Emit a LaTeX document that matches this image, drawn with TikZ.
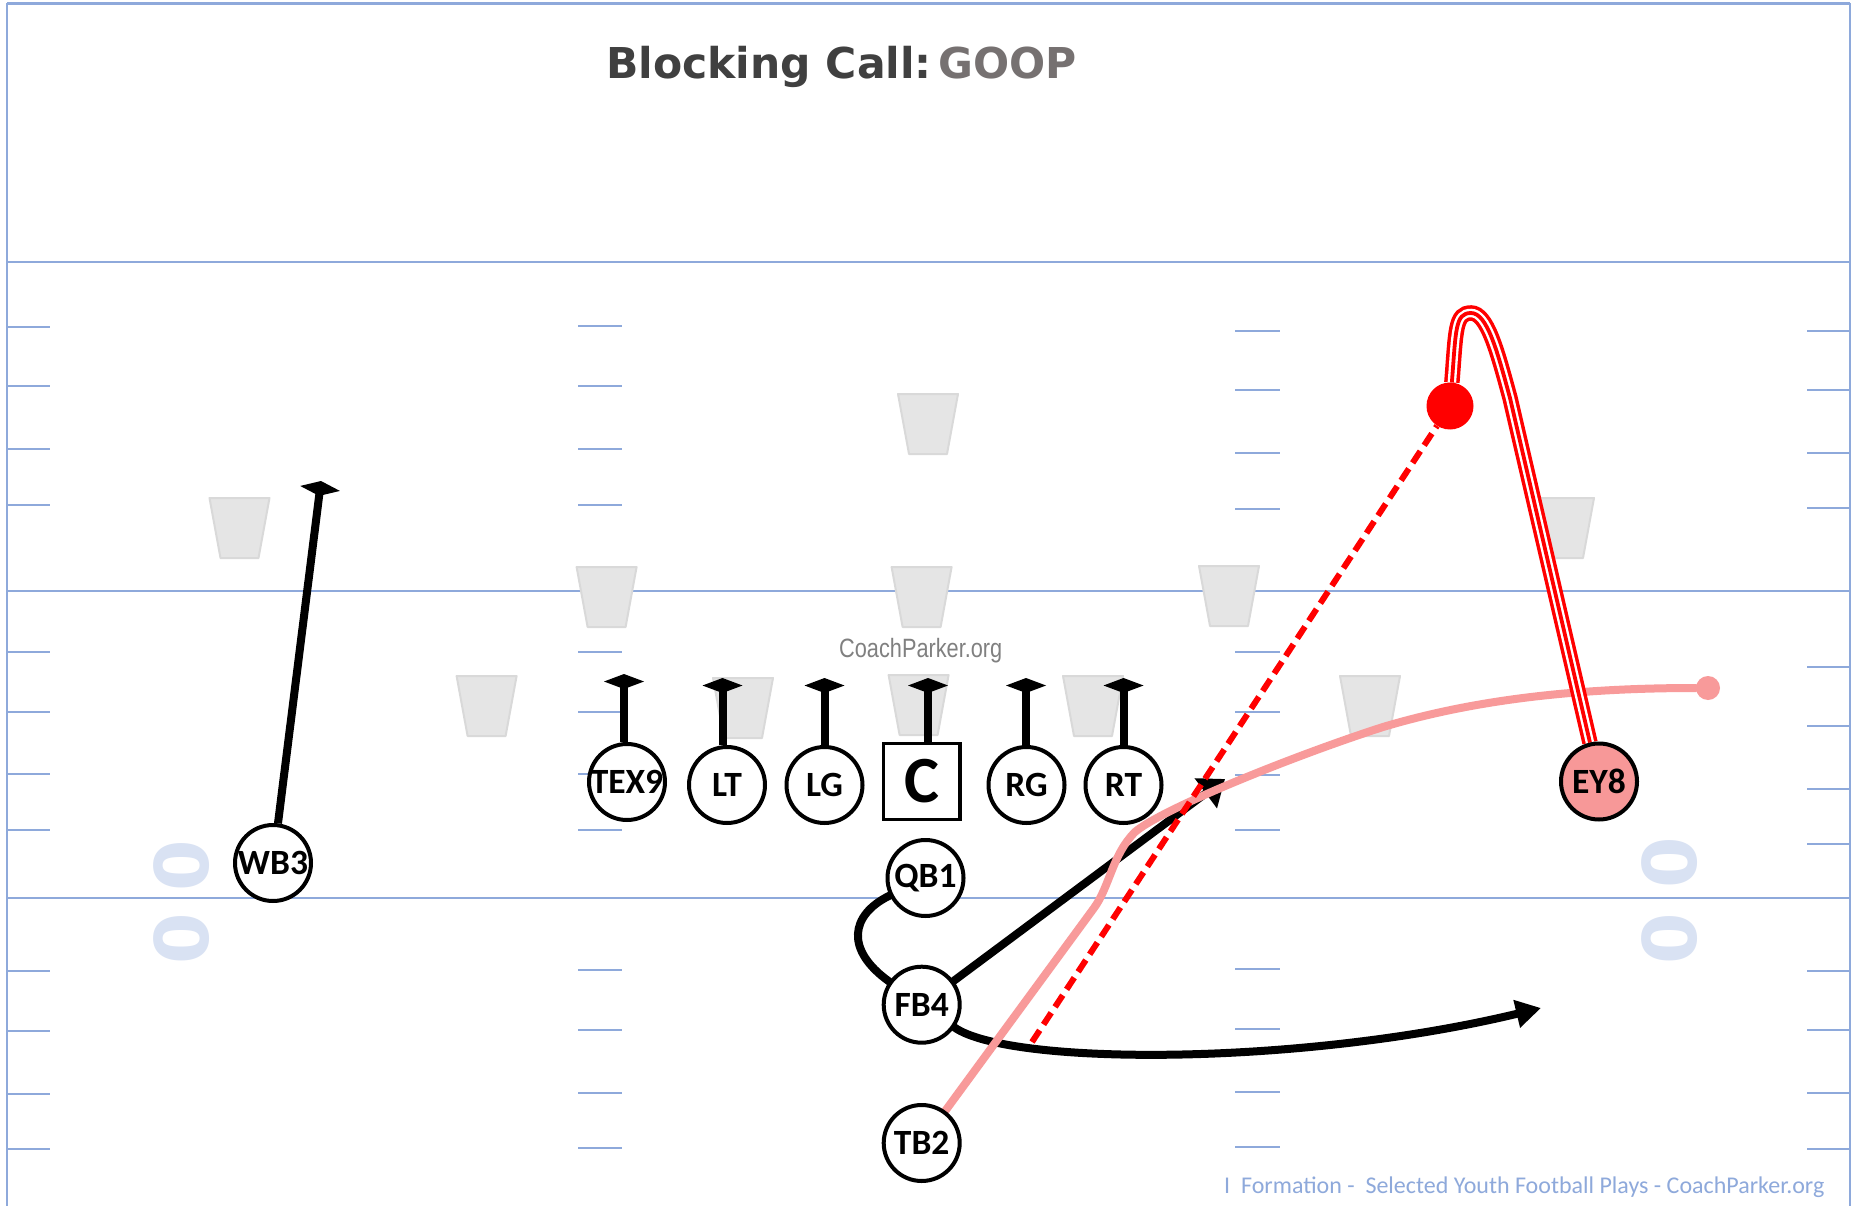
\documentclass[tikz,border=0pt]{standalone}
\usepackage{fontspec}
\setmainfont{Carlito}
\newfontfamily\dvsans{DejaVu Sans}
\newfontfamily\libsans{Liberation Sans}
\usetikzlibrary{arrows.meta}
\pgfdeclarelayer{bgl}
\pgfdeclarelayer{rtl}
\pgfsetlayers{bgl,rtl,main}
\definecolor{fieldblue}{RGB}{142,169,219}
\definecolor{zeroblue}{RGB}{217,226,243}
\definecolor{trapfill}{RGB}{229,229,229}
\definecolor{trapdraw}{RGB}{217,217,217}
\definecolor{pinkc}{RGB}{248,154,154}
\definecolor{eyfill}{RGB}{247,152,152}
\definecolor{titledark}{RGB}{64,64,64}
\definecolor{titlegray}{RGB}{118,113,113}
\definecolor{wmgray}{RGB}{128,128,128}
\begin{document}
\begin{tikzpicture}[x=1pt,y=-1pt,
  fline/.style={draw=fieldblue, line width=1.6pt},
  hashst/.style={draw=fieldblue, line width=1.6pt},
  trapst/.style={fill=trapfill, draw=trapdraw, line width=2pt, line join=round},
  player/.style={circle, draw=black, line width=4pt, fill=white, minimum size=76pt, inner sep=0pt, font=\fontsize{35.5}{35.5}\selectfont\bfseries},
  centerbox/.style={rectangle, draw=black, line width=3.4pt, fill=white, minimum size=76.5pt, inner sep=0pt, font=\fontsize{66}{66}\selectfont\bfseries},
  blk/.style={line width=8pt, -{Diamond[length=15pt,width=40pt]}},
  route/.style={line width=8pt, line cap=round, line join=round},
  pinkroute/.style={draw=pinkc, line width=8pt, line cap=round},
  zerost/.style={text=zeroblue, rotate=90, inner sep=0pt, font=\fontsize{74}{74}\selectfont\dvsans\bfseries}
]
\useasboundingbox (0,0) rectangle (1853,1206);

% ---------------- field (background) ----------------
\begin{pgfonlayer}{bgl}
\fill[white] (0,0) rectangle (1853,1206);
\draw[draw=fieldblue, line width=3pt] (7,4) -- (1850,4);
\draw[draw=fieldblue, line width=2pt] (7,3) -- (7,1206);
\draw[draw=fieldblue, line width=2pt] (1850,3) -- (1850,1206);
\foreach \yy in {262,591,898} \draw[fline] (7,\yy) -- (1850,\yy);
\foreach \yy in {327,386,449,505,652,712,774,830,971,1031,1094,1149} \draw[hashst] (7,\yy) -- (50,\yy);
\foreach \yy in {326,386,449,505,652,712,774,830,970,1030,1093,1148} \draw[hashst] (578,\yy) -- (622,\yy);
\foreach \yy in {331,390,453,509,652,712,775,830,969,1029,1092,1147} \draw[hashst] (1235,\yy) -- (1280,\yy);
\foreach \yy in {331,390,453,508,667,726,789,844,971,1030,1093,1149} \draw[hashst] (1807,\yy) -- (1850,\yy);
\node[zerost] (z1) at (182,865.5) {0};
\node[zerost] (z2) at (182,939) {0};
\node[zerost] (z3) at (1670,862.6) {0};
\node[zerost] (z4) at (1670,938.8) {0};
\foreach \aa/\bb in {239.5/498, 928/394, 606.6/567, 921.6/567, 1229/566, 486.6/676, 743/678, 918.6/675, 1093/676, 1370/676, 1564/498}
  \draw[trapst, shift={(\aa,\bb)}] (-30,0) -- (30,0) -- (19,60) -- (-19,60) -- cycle;
\node[anchor=base west, inner sep=0pt, font=\fontsize{42.5}{43}\selectfont\dvsans\bfseries] (title) at (606,78.5)
  {\textcolor{titledark}{Blocking Call:}\hspace{0.16em}\textcolor{titlegray}{GOOP}};
\node[anchor=base west, inner sep=0pt, text=wmgray, font=\fontsize{26.5}{27}\selectfont\libsans] (wm) at (839,657)
  {\scalebox{0.82}[1]{CoachParker.org}};
\node[anchor=base west, inner sep=0pt, text=fieldblue, font=\fontsize{24}{24}\selectfont] (footer) at (1224,1193)
  {I\ \ Formation -\ \ Selected Youth Football Plays - CoachParker.org};
\end{pgfonlayer}

% ---------------- players ----------------
\node[player] (TEX9) at (627,782) {\raisebox{-2pt}{TEX9}};
\node[player] (LT) at (727,785) {\raisebox{-3pt}{LT}};
\node[player] (LG) at (824.5,785) {\raisebox{-3pt}{LG}};
\node[centerbox] (C) at (921.7,781.5) {C};
\node[player] (RG) at (1026.5,785) {\raisebox{-3pt}{RG}};
\node[player] (RT) at (1123.5,785) {\raisebox{-3pt}{RT}};
\node[player] (QB1) at (925.5,878) {QB1};
\node[player] (FB4) at (921.7,1004.7) {FB4};
\node[player] (TB2) at (921.7,1143) {TB2};
\node[player] (WB3) at (273,863) {WB3};
\node[player, fill=eyfill] (EY8) at (1599,781.5) {EY8};
\node[circle, fill=red, minimum size=47pt, inner sep=0pt] (reddot) at (1450,406) {};
\node[circle, fill=pinkc, minimum size=24pt, inner sep=0pt] (pkdot) at (1708,688) {};

% ---------------- routes ----------------
\begin{pgfonlayer}{rtl}
\coordinate (tTEX) at (624,674);
\coordinate (tLT) at (722.5,678);
\coordinate (tLG) at (824.5,678);
\coordinate (tC) at (928,678);
\coordinate (tRG) at (1026,678);
\coordinate (tRT) at (1123.5,678);
\draw[blk] (TEX9.north -| tTEX) -- (tTEX);
\draw[blk] (LT.north -| tLT) -- (tLT);
\draw[blk] (LG.north -| tLG) -- (tLG);
\draw[blk] (C.north -| tC) -- (tC);
\draw[blk] (RG.north -| tRG) -- (tRG);
\draw[blk] (RT.north -| tRT) -- (tRT);
\coordinate (wbTip) at (321,481);
\draw[blk] (WB3) -- (wbTip);

\draw[route] (QB1) .. controls (850,915) and (845,950) .. (FB4);
\coordinate (fbTip) at (1225,779);
\draw[route, -{Triangle[length=24pt,width=36pt]}] (FB4) -- (fbTip);
\coordinate (fbEnd) at (1541,1008);
\draw[route, -{Triangle[length=25pt,width=27pt]}] (FB4) .. controls (1010,1066) and (1300,1066) .. (fbEnd);

\coordinate (pk1) at (1094,908);
\coordinate (pk2) at (1135,832);
\coordinate (pk3) at (1383,727);
\draw[pinkroute] (TB2) -- (pk1) .. controls (1110,886) and (1112,855) .. (pk2)
  .. controls (1160,810) and (1290,757) .. (pk3) .. controls (1470,701) and (1570,688) .. (pkdot);

\coordinate (rdStart) at (1032,1042);
\draw[red, line width=6pt, dash pattern=on 14pt off 7pt] (rdStart) -- (reddot);

\coordinate (rA) at (1471,313);
\coordinate (rB) at (1510,398);
\draw[red, line width=15.5pt,
      postaction={draw=white, line width=8.5pt},
      postaction={draw=red, line width=3.8pt}]
  (reddot) .. controls (1456,330) and (1455,313) .. (rA)
  .. controls (1487,313) and (1497,350) .. (rB) -- (EY8);
\end{pgfonlayer}
\end{tikzpicture}
\end{document}
